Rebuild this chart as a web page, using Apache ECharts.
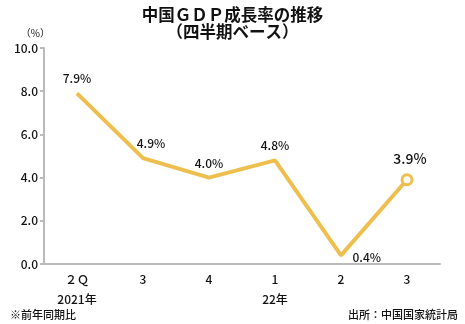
<!DOCTYPE html>
<html><head><meta charset="utf-8">
<script src="https://cdn.jsdelivr.net/npm/echarts@6/dist/echarts.min.js"></script>
<style>html,body{margin:0;padding:0;background:#fff}#c{width:465px;height:324px}</style>
</head><body><div id="c"></div>
<script>
const categories = ['２Ｑ', '3', '4', '1', '2', '3'];
const yearLabels = ['2021年', '', '', '22年', '', ''];
const growth = [7.9, 4.9, 4.0, 4.8, 0.4, 3.9];
const yTicks = [0, 2, 10];

const F = '"Noto Sans CJK JP", "Noto Sans", sans-serif';
const chart = echarts.init(document.getElementById('c'), null, {renderer: 'canvas'});
const labelPos = [
  {position: 'top', offset: [0, -3]},
  {position: 'top', offset: [8, -3]},
  {position: 'top', offset: [0, -3]},
  {position: 'top', offset: [0, -3]},
  {position: 'right', offset: [6, 2]},
  {position: 'top', offset: [3, -3], fontSize: 14}
];
const last = growth.length - 1;
chart.setOption({
  animation: false,
  title: {
    text: '中国ＧＤＰ成長率の推移\n（四半期ベース）',
    left: 'center', top: 1,
    textStyle: {fontFamily: F, fontSize: 16.5, fontWeight: 'bold', color: '#111', lineHeight: 17}
  },
  grid: {left: 44, right: 25, top: 48, bottom: 60},
  xAxis: {
    type: 'category', data: categories.map((c, i) => c + (yearLabels[i] ? '\n' + yearLabels[i] : '')),
    axisLine: {lineStyle: {color: '#bbb', width: 2}},
    axisTick: {show: false},
    axisLabel: {fontFamily: F, fontSize: 12, fontWeight: 500, color: '#111', margin: 5, lineHeight: 20, verticalAlign: 'top'}
  },
  yAxis: {
    type: 'value', min: yTicks[0], max: yTicks[2], interval: yTicks[1],
    name: '（%）', nameLocation: 'end', nameGap: 10,
    nameTextStyle: {fontFamily: F, fontSize: 10, color: '#111', align: 'right', padding: [0, -6, 0, 0]},
    axisLine: {show: true, lineStyle: {color: '#bbb', width: 2}},
    axisTick: {show: true, length: 4, lineStyle: {color: '#bbb', width: 2}},
    splitLine: {show: false},
    axisLabel: {fontFamily: F, fontSize: 12, fontWeight: 500, color: '#111', margin: 6, formatter: v => v.toFixed(1)}
  },
  series: [{
    type: 'line', data: growth.map((v, i) => ({
      value: v,
      symbol: 'circle',
      symbolSize: i === last ? 10 : 1,
      itemStyle: i === last ? {color: '#fff', borderColor: '#EEBF4E', borderWidth: 3} : {color: '#EEBF4E', borderWidth: 0},
      label: Object.assign({show: true}, labelPos[i])
    })),
    showAllSymbol: true,
    lineStyle: {color: '#EEBF4E', width: 4},
    label: {fontFamily: F, fontSize: 12, fontWeight: 500, color: '#111', formatter: p => p.value.toFixed(1) + '%'}
  }],
  graphic: [
    {type: 'text', left: 10, top: 309, style: {text: '※前年同期比', font: '500 11px ' + F, fill: '#111'}},
    {type: 'text', right: 7, top: 309, style: {text: '出所：中国国家統計局', font: '500 11px ' + F, fill: '#111'}}
  ]
});
</script></body></html>
